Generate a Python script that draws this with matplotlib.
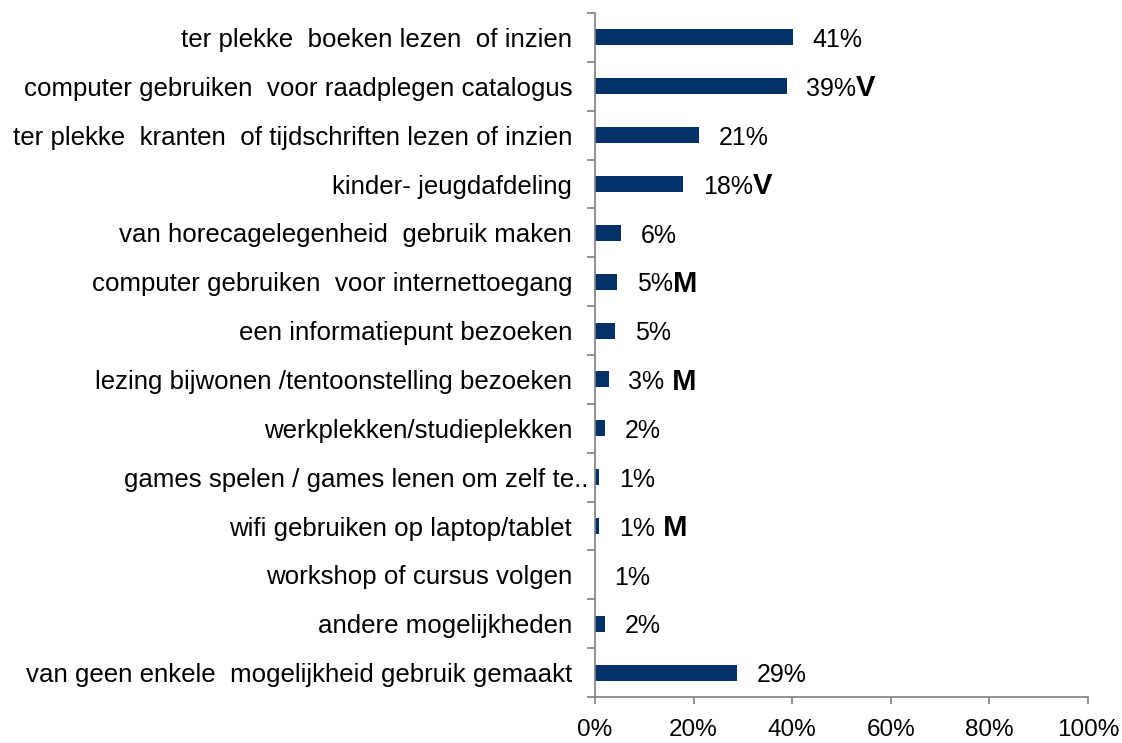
import matplotlib
matplotlib.use("Agg")
import matplotlib.pyplot as plt
import matplotlib.transforms as mtransforms
import numpy as np

categories = [
    "ter plekke  boeken lezen  of inzien",
    "computer gebruiken  voor raadplegen catalogus",
    "ter plekke  kranten  of tijdschriften lezen of inzien",
    "kinder- jeugdafdeling",
    "van horecagelegenheid  gebruik maken",
    "computer gebruiken  voor internettoegang",
    "een informatiepunt bezoeken",
    "lezing bijwonen /tentoonstelling bezoeken",
    "werkplekken/studieplekken",
    "games spelen / games lenen om zelf te..",
    "wifi gebruiken op laptop/tablet",
    "workshop of cursus volgen",
    "andere mogelijkheden",
    "van geen enkele  mogelijkheid gebruik gemaakt",
]
values = [40.2, 38.9, 21.1, 17.9, 5.3, 4.5, 4.1, 2.8, 2.1, 0.9, 0.9, 0.0, 2.1, 28.8]
value_labels = ["41%", "39%", "21%", "18%", "6%", "5%", "5%", "3%", "2%", "1%", "1%", "1%", "2%", "29%"]
markers = ["", "V", "", "V", "", "M", "", " M", "", "", " M", "", "", ""]
x_ticks = [0, 20, 40, 60, 80, 100]

plt.rcParams['font.family'] = ['Liberation Sans', 'DejaVu Sans']

fig = plt.figure(figsize=(11.22, 7.43), dpi=100)
ax = fig.add_axes([0.5303, 0.0619, 0.9697 - 0.5303, 0.9825 - 0.0619])

n = len(categories)
y = np.arange(n)
bar_color = "#03326A"
ax.barh(y, values, height=0.33, color=bar_color)
ax.set_ylim(n - 0.5, -0.5)
ax.set_xlim(0, 100)

fs_cat = 18.6
fs_val = 18
fs_x = 17.5
for i, (v, lab, mk) in enumerate(zip(values, value_labels, markers)):
    t = ax.annotate(lab, xy=(v, i), xytext=(14, -2), textcoords="offset points",
                    ha="left", va="center", fontsize=fs_val, color="black")
    if mk:
        ax.annotate(mk, xy=(1, 0), xycoords=t, xytext=(0, -1), textcoords="offset points",
                    ha="left", va="bottom", fontsize=21, fontweight="bold", color="black")

spine_color = "#7f7f7f"
for s in ["top", "right"]:
    ax.spines[s].set_visible(False)
for s in ["left", "bottom"]:
    ax.spines[s].set_color(spine_color)
    ax.spines[s].set_linewidth(1.2)

ax.set_yticks(y)
ax.set_yticklabels(categories, fontsize=fs_cat)
ax.tick_params(axis="y", which="major", length=0, pad=16.5)
ax.set_yticks(np.arange(n + 1) - 0.5, minor=True)
ax.tick_params(axis="y", which="minor", length=6, width=1.2, color=spine_color, direction="out")

ax.set_xticks(x_ticks)
ax.set_xticklabels([f"{t}%" for t in x_ticks], fontsize=fs_x)
ax.tick_params(axis="x", which="major", length=5, width=1.2, color=spine_color, pad=10.5)

# the truncated label sits slightly further right in the original
for tl in ax.get_yticklabels():
    if tl.get_text().endswith(".."):
        tl.set_transform(tl.get_transform() + mtransforms.ScaledTranslation(12/72, 0, fig.dpi_scale_trans))

fig.savefig("out.png", dpi=100)
